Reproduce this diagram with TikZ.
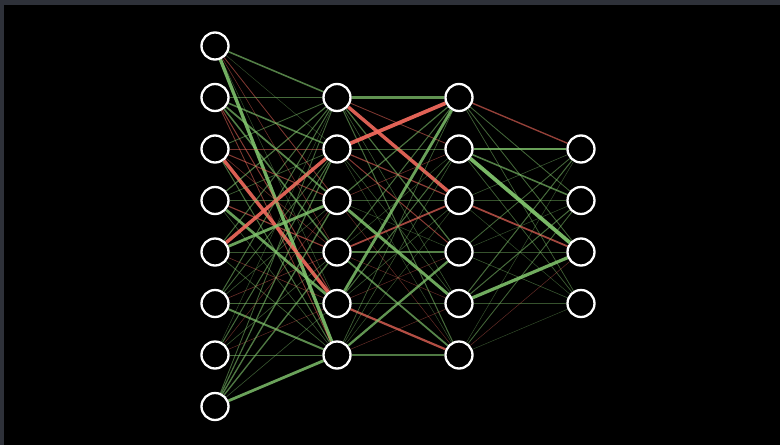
\documentclass[tikz,border=0pt]{standalone}
\usetikzlibrary{backgrounds}

\definecolor{posw}{HTML}{82C66E}
\definecolor{negw}{HTML}{F26A5D}
\definecolor{bordergray}{HTML}{2E3139}

% one weighted connection: from, to, signed weight
\newcommand{\synapse}[3]{%
  \pgfmathsetmacro{\wabs}{abs(#3)}%
  \pgfmathsetmacro{\wlw}{0.35+4.0*\wabs*sqrt(\wabs)}%
  \pgfmathsetmacro{\wop}{0.35+0.65*\wabs}%
  \ifdim #3pt<0pt \def\wcol{negw}\else\def\wcol{posw}\fi
  \draw[line width=\wlw pt,draw=\wcol,draw opacity=\wop] (#1) -- (#2);%
}

\begin{document}
\begin{tikzpicture}[x=1pt,y=-1pt,
  neuron/.style={circle,draw=white,line width=2.3pt,fill=black,minimum size=27pt,inner sep=0pt}
]
  \useasboundingbox (0,0) rectangle (780,445);
  \begin{pgfonlayer}{background}
    \fill[bordergray] (0,0) rectangle (780,445);
    \fill[black] (4,5) rectangle (780,445);
  \end{pgfonlayer}

  % layers
  \foreach \i in {1,...,8} \node[neuron] (x\i) at (215,{46+51.5*(\i-1)}) {};
  \foreach \j in {1,...,6} \node[neuron] (h\j) at (337,{97.5+51.5*(\j-1)}) {};
  \foreach \j in {1,...,6} \node[neuron] (g\j) at (459,{97.5+51.5*(\j-1)}) {};
  \foreach \k in {1,...,4} \node[neuron] (y\k) at (581,{149+51.5*(\k-1)}) {};

  % weights, one row per source neuron
  \begin{pgfonlayer}{background}
    \foreach \ws [count=\i] in {
      {0.45,0.08,-0.25,-0.15,0.1,0.82},
      {0.3,0.45,0.5,0.45,-0.3,-0.25},
      {0.25,-0.2,-0.3,-0.15,-0.85,0.3},
      {0.35,0.2,0.2,-0.35,0.7,0.15},
      {0.3,-0.85,0.72,0.15,-0.15,0.2},
      {0.3,0.25,0.15,-0.15,0.3,0.55},
      {0.1,0.3,-0.1,0.15,-0.1,0.3},
      {0.25,0.35,0.4,0.4,0.15,0.72}}
      {\foreach \w [count=\j] in \ws {\synapse{x\i}{h\j}{\w}}}
    \foreach \ws [count=\i] in {
      {0.6,-0.25,-0.85,0.35,0.15,0.3},
      {-0.9,0.2,-0.35,-0.3,0.15,0.1},
      {0.35,-0.15,0.15,0.1,0.75,-0.1},
      {0.3,0.1,-0.5,0.45,-0.1,0.5},
      {0.72,0.3,0.15,-0.1,0.1,-0.6},
      {0.2,0.15,0.1,0.62,-0.1,0.4}}
      {\foreach \w [count=\j] in \ws {\synapse{h\i}{g\j}{\w}}}
    \foreach \ws [count=\i] in {
      {-0.4,0.25,0.25,0.2},
      {0.7,0.45,0.9,0.2},
      {0.15,0.1,-0.5,0.1},
      {0.25,0.1,0.1,0.15},
      {0.3,0.3,0.8,0.1},
      {0.1,0.25,-0.1,0.08}}
      {\foreach \w [count=\k] in \ws {\synapse{g\i}{y\k}{\w}}}
  \end{pgfonlayer}
\end{tikzpicture}
\end{document}
